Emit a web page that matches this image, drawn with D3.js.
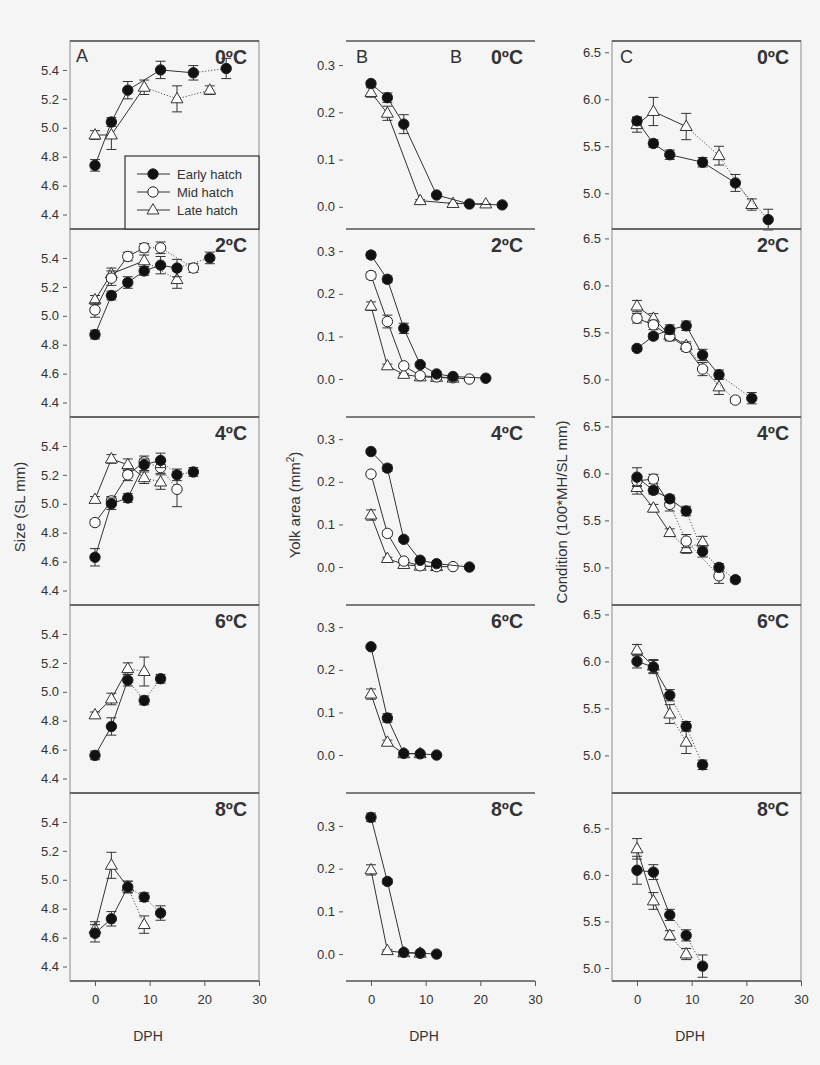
<!DOCTYPE html>
<html>
<head>
<meta charset="utf-8">
<script src="https://cdn.jsdelivr.net/npm/d3@7"></script>
<style>
body { margin: 0; background: #f5f5f5; }
text { font-family: "Liberation Sans", Arial, sans-serif; fill: #333; }
</style>
</head>
<body>
<svg id="chart" width="820" height="1065"></svg>
<script>
// panels: rows = temperatures, columns = size / yolk / condition
var temps = ["0ºC", "2ºC", "4ºC", "6ºC", "8ºC"];
var seriesNames = ["Early hatch", "Mid hatch", "Late hatch"];
var dayTicks = [0, 10, 20, 30];
var sizeTicks = [4.4, 4.6, 4.8, 5.0, 5.2, 5.4];
var yolkTicks = [0, 0.1, 0.2, 0.3];
var condTicks = [5.0, 5.5, 6.0, 6.5];

// [day, mean, se] for each temperature
var sizeEarly = [
  [[0,4.74,0.04],[3,5.04,0.03],[6,5.26,0.06],[12,5.40,0.06],[18,5.38,0.05],[24,5.41,0.07]],
  [[0,4.87,0.03],[3,5.14,0.03],[6,5.23,0.04],[9,5.31,0.03],[12,5.35,0.06],[15,5.33,0.06],[21,5.40,0.04]],
  [[0,4.63,0.06],[3,5.00,0.04],[6,5.04,0.03],[9,5.27,0.04],[12,5.30,0.05],[15,5.20,0.04],[18,5.22,0.03]],
  [[0,4.56,0.03],[3,4.76,0.06],[6,5.08,0.04],[9,4.94,0.03],[12,5.09,0.03]],
  [[0,4.63,0.06],[3,4.73,0.05],[6,4.95,0.04],[9,4.88,0.03],[12,4.77,0.05]]
];
var sizeMid = [
  [],
  [[0,5.04,0.05],[3,5.26,0.05],[6,5.41,0.03],[9,5.47,0.03],[12,5.47,0.04],[18,5.33,0.03]],
  [[0,4.87,0.02],[3,5.02,0.03],[6,5.20,0.04],[9,5.29,0.04],[12,5.25,0.04],[15,5.10,0.12]],
  [],
  []
];
var sizeLate = [
  [[0,4.95,0.03],[3,4.95,0.10],[9,5.28,0.05],[15,5.20,0.09],[21,5.26,0.03]],
  [[0,5.11,0.03],[3,5.29,0.04],[9,5.38,0.04],[15,5.25,0.06]],
  [[0,5.03,0.02],[3,5.31,0.03],[6,5.27,0.04],[9,5.18,0.04],[12,5.15,0.05]],
  [[0,4.84,0.02],[3,4.95,0.04],[6,5.16,0.04],[9,5.14,0.10]],
  [[0,4.66,0.05],[3,5.10,0.09],[6,4.95,0.04],[9,4.69,0.06]]
];

var yolkEarly = [
  [[0,0.261,0.005],[3,0.231,0.01],[6,0.175,0.02],[12,0.025,0.003],[18,0.006,0.002],[24,0.004,0.001]],
  [[0,0.291,0.007],[3,0.234,0.008],[6,0.119,0.012],[9,0.034,0.004],[12,0.012,0.003],[15,0.006,0.002],[21,0.002,0.001]],
  [[0,0.271,0.004],[3,0.232,0.008],[6,0.065,0.005],[9,0.016,0.003],[12,0.008,0.002],[18,0.0,0.001]],
  [[0,0.254,0.004],[3,0.087,0.01],[6,0.004,0.001],[9,0.003,0.001],[12,0.0,0.001]],
  [[0,0.32,0.01],[3,0.17,0.006],[6,0.004,0.002],[9,0.002,0.001],[12,0.0,0.001]]
];
var yolkMid = [
  [],
  [[0,0.243,0.008],[3,0.135,0.015],[6,0.031,0.005],[9,0.008,0.002],[12,0.005,0.001],[15,0.003,0.001],[18,0.0,0.001]],
  [[0,0.218,0.005],[3,0.079,0.006],[6,0.014,0.003],[9,0.003,0.001],[12,0.001,0.001],[15,0.001,0.001]],
  [],
  []
];
var yolkLate = [
  [[0,0.242,0.01],[3,0.198,0.015],[9,0.013,0.002],[15,0.007,0.001],[21,0.006,0.001]],
  [[0,0.171,0.01],[3,0.031,0.004],[6,0.011,0.002],[9,0.005,0.001],[12,0.004,0.001],[15,0.002,0.001]],
  [[0,0.122,0.012],[3,0.020,0.003],[6,0.006,0.002],[9,0.002,0.001],[12,0.001,0.001]],
  [[0,0.143,0.012],[3,0.030,0.005],[6,0.003,0.001],[9,0.003,0.001]],
  [[0,0.197,0.012],[3,0.008,0.002],[6,0.003,0.001],[9,0.002,0.001]]
];

var condEarly = [
  [[0,5.77,0.04],[3,5.53,0.04],[6,5.41,0.05],[12,5.33,0.05],[18,5.11,0.09],[24,4.72,0.11]],
  [[0,5.33,0.03],[3,5.46,0.03],[6,5.53,0.05],[9,5.57,0.05],[12,5.26,0.06],[15,5.05,0.05],[21,4.80,0.06]],
  [[0,5.96,0.10],[3,5.82,0.04],[6,5.73,0.04],[9,5.60,0.05],[12,5.17,0.06],[15,5.00,0.04],[18,4.87,0.03]],
  [[0,6.00,0.07],[3,5.94,0.07],[6,5.64,0.06],[9,5.31,0.05],[12,4.90,0.05]],
  [[0,6.05,0.15],[3,6.03,0.08],[6,5.57,0.06],[9,5.35,0.06],[12,5.02,0.12]]
];
var condMid = [
  [],
  [[0,5.65,0.05],[3,5.58,0.05],[6,5.46,0.04],[9,5.34,0.04],[12,5.11,0.07],[18,4.78,0.03]],
  [[0,5.92,0.05],[3,5.94,0.05],[6,5.67,0.07],[9,5.28,0.07],[15,4.91,0.08]],
  [],
  []
];
var condLate = [
  [[0,5.73,0.08],[3,5.87,0.15],[9,5.71,0.14],[15,5.40,0.10],[21,4.88,0.06]],
  [[0,5.78,0.06],[3,5.65,0.05],[6,5.47,0.06],[9,5.36,0.04],[15,4.92,0.08]],
  [[0,5.85,0.07],[3,5.63,0.04],[6,5.37,0.04],[9,5.20,0.05],[12,5.27,0.06]],
  [[0,6.12,0.06],[3,5.95,0.07],[6,5.44,0.10],[9,5.14,0.12]],
  [[0,6.28,0.11],[3,5.72,0.09],[6,5.35,0.05],[9,5.15,0.06]]
];

// last day joined by a solid line, later segments are dotted
var sizeSolid = [[18,15,12,6,6],[99,9,9,99,99],[9,9,9,6,6]];
var yolkSolid = [[99,99,99,99,99],[99,99,99,99,99],[99,99,99,99,99]];
var condSolid = [[18,15,9,6,6],[99,12,6,99,99],[9,9,6,6,6]];

var svg = d3.select("#chart");
svg.append("rect").attr("width", 820).attr("height", 1065).attr("fill", "#f5f5f5");

var top0 = 41, rowH = 188, panelW = 189;

var columns = [
  { left: 70, box: true, ticks: sizeTicks, series: [sizeEarly, sizeMid, sizeLate], solid: sizeSolid,
    domains: [[4.3,5.6],[4.3,5.6],[4.3,5.6],[4.3,5.6],[4.3,5.6]] },
  { left: 346, box: false, ticks: yolkTicks, series: [yolkEarly, yolkMid, yolkLate], solid: yolkSolid,
    domains: [[-0.047,0.351],[-0.089,0.352],[-0.089,0.352],[-0.089,0.352],[-0.063,0.377]] },
  { left: 612, box: true, ticks: condTicks, series: [condEarly, condMid, condLate], solid: condSolid,
    domains: [[4.62,6.62],[4.6,6.6],[4.6,6.6],[4.6,6.6],[4.86,6.88]] }
];

function drawMarker(g, kind, cx, cy) {
  if (kind === 2) {
    g.append("path")
      .attr("d", d3.symbol().type(d3.symbolTriangle).size(62)())
      .attr("transform", "translate(" + cx + "," + (cy + 0.5) + ")")
      .attr("fill", "#fff").attr("stroke", "#333").attr("stroke-width", 1);
  } else {
    g.append("circle").attr("cx", cx).attr("cy", cy).attr("r", 5.2)
      .attr("fill", kind === 0 ? "#111" : "#fff")
      .attr("stroke", "#222").attr("stroke-width", 1);
  }
}

columns.forEach(function (col, ci) {
  var x = d3.scaleLinear().domain([-4.57, 30]).range([col.left, col.left + panelW]);

  temps.forEach(function (t, ri) {
    var top = top0 + ri * rowH, bottom = top + rowH;
    var y = d3.scaleLinear().domain(col.domains[ri]).range([bottom, top]);
    var g = svg.append("g");

    // frame
    if (col.box) {
      g.append("rect").attr("x", col.left).attr("y", top).attr("width", panelW).attr("height", rowH)
        .attr("fill", "none").attr("stroke", "#8a8a8a").attr("stroke-width", 1);
    }
    g.append("line").attr("x1", col.left).attr("x2", col.left + panelW).attr("y1", top).attr("y2", top)
      .attr("stroke", "#555").attr("stroke-width", 1.3);
    if (ri === temps.length - 1) {
      g.append("line").attr("x1", col.left).attr("x2", col.left + panelW).attr("y1", bottom).attr("y2", bottom)
        .attr("stroke", "#555").attr("stroke-width", 1.3);
    }

    // y axis
    var ya = g.append("g").attr("transform", "translate(" + (col.left - 3) + ",0)")
      .call(d3.axisLeft(y).tickValues(col.ticks).tickSize(4).tickPadding(4).tickFormat(d3.format(".1f")));
    ya.select(".domain").remove();
    ya.selectAll(".tick line").attr("stroke", "#555");
    ya.selectAll("text").attr("font-size", 13).attr("fill", "#444")
      .attr("font-family", "'Liberation Sans', Arial, sans-serif");

    // x axis on the last row
    if (ri === temps.length - 1) {
      var xa = g.append("g").attr("transform", "translate(0," + bottom + ")")
        .call(d3.axisBottom(x).tickValues(dayTicks).tickSize(5).tickPadding(9));
      xa.select(".domain").remove();
      xa.selectAll(".tick line").attr("stroke", "#555");
      xa.selectAll("text").attr("font-size", 13).attr("fill", "#444")
        .attr("font-family", "'Liberation Sans', Arial, sans-serif");
    }

    // temperature label
    g.append("text").attr("x", col.left + panelW - 12).attr("y", top + 23)
      .attr("text-anchor", "end").attr("font-size", 19.5).attr("font-weight", "bold")
      .attr("fill", "#222").text(t);

    // series: late, mid, early (early on top)
    [2, 1, 0].forEach(function (s) {
      var pts = col.series[s][ri];
      var solidDay = col.solid[s][ri];
      for (var i = 0; i < pts.length - 1; i++) {
        g.append("line")
          .attr("x1", x(pts[i][0])).attr("y1", y(pts[i][1]))
          .attr("x2", x(pts[i + 1][0])).attr("y2", y(pts[i + 1][1]))
          .attr("stroke", "#333").attr("stroke-width", 1)
          .attr("stroke-dasharray", pts[i + 1][0] > solidDay ? "1,2" : null);
      }
      pts.forEach(function (p) {
        var cx = x(p[0]), y1 = y(p[1] - p[2]), y2 = y(p[1] + p[2]);
        g.append("line").attr("x1", cx).attr("x2", cx).attr("y1", y1).attr("y2", y2)
          .attr("stroke", "#333").attr("stroke-width", 1);
        [y1, y2].forEach(function (yy) {
          g.append("line").attr("x1", cx - 5).attr("x2", cx + 5).attr("y1", yy).attr("y2", yy)
            .attr("stroke", "#333").attr("stroke-width", 1);
        });
      });
      pts.forEach(function (p) { drawMarker(g, s, x(p[0]), y(p[1])); });
    });
  });

  svg.append("text").attr("x", col.left + 78).attr("y", 1041).attr("text-anchor", "middle")
    .attr("font-size", 14).attr("fill", "#444").text("DPH");
});

// panel letters
svg.append("text").attr("x", 76).attr("y", 62).attr("font-size", 18).attr("fill", "#333").text("A");
svg.append("text").attr("x", 356).attr("y", 63).attr("font-size", 18).attr("fill", "#333").text("B");
svg.append("text").attr("x", 450).attr("y", 63).attr("font-size", 18).attr("fill", "#333").text("B");
svg.append("text").attr("x", 620).attr("y", 63).attr("font-size", 18).attr("fill", "#333").text("C");

// axis titles
svg.append("text").attr("transform", "translate(25,507) rotate(-90)").attr("text-anchor", "middle")
  .attr("font-size", 15).attr("fill", "#333").text("Size (SL mm)");
var yt = svg.append("text").attr("transform", "translate(300,505) rotate(-90)").attr("text-anchor", "middle")
  .attr("font-size", 15).attr("fill", "#333");
yt.append("tspan").text("Yolk area (mm");
yt.append("tspan").attr("dy", -6).attr("font-size", 10).text("2");
yt.append("tspan").attr("dy", 6).text(")");
svg.append("text").attr("transform", "translate(567,512) rotate(-90)").attr("text-anchor", "middle")
  .attr("font-size", 15).attr("fill", "#333").text("Condition (100*MH/SL mm)");

// legend in panel A, 0ºC
var lg = svg.append("g");
lg.append("rect").attr("x", 125).attr("y", 156).attr("width", 134).attr("height", 73)
  .attr("fill", "#f5f5f5").attr("stroke", "#333").attr("stroke-width", 1.2);
seriesNames.forEach(function (name, i) {
  var ly = 174 + i * 18;
  lg.append("line").attr("x1", 137).attr("x2", 170).attr("y1", ly).attr("y2", ly)
    .attr("stroke", "#333").attr("stroke-width", 1);
  drawMarker(lg, i, 153, ly);
  lg.append("text").attr("x", 177).attr("y", ly + 4.5).attr("font-size", 13).attr("fill", "#333").text(name);
});
</script>
</body>
</html>
